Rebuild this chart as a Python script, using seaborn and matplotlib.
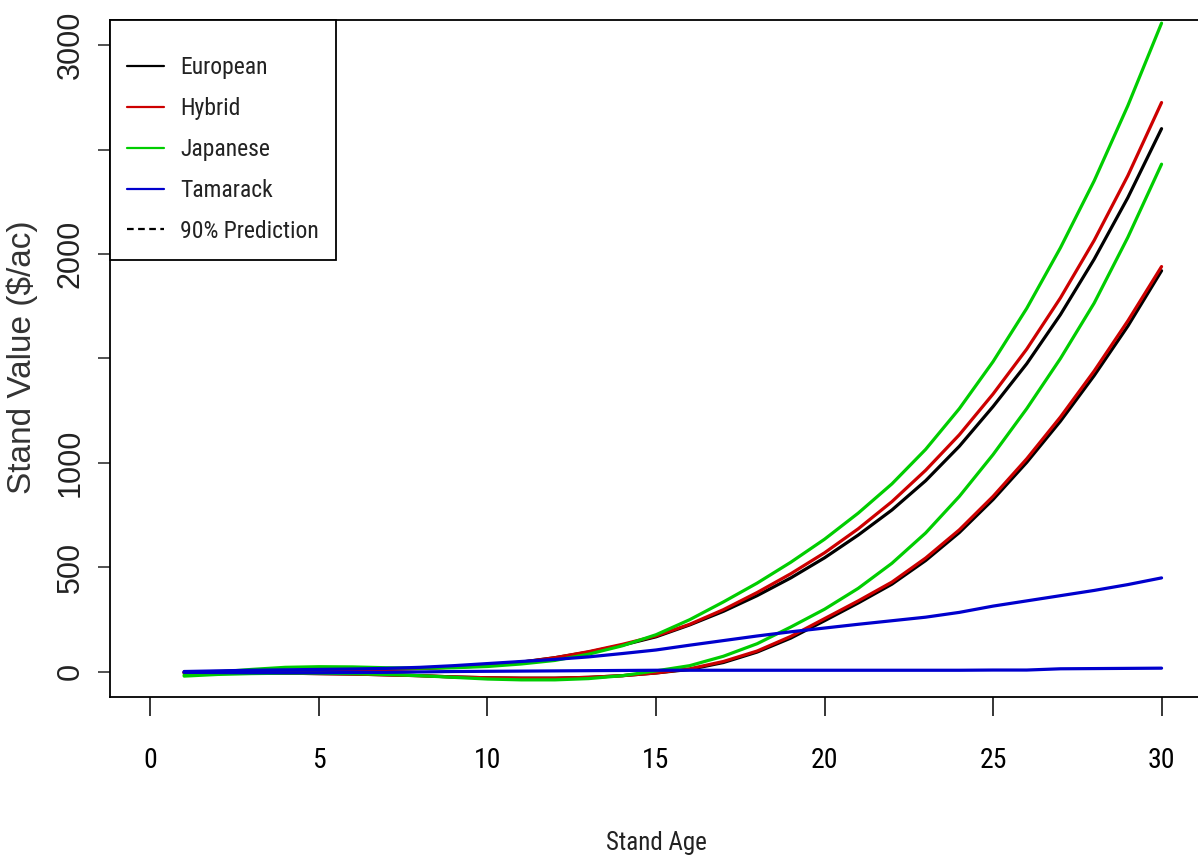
import os
import matplotlib
matplotlib.use("Agg")
import matplotlib.pyplot as plt
from matplotlib import font_manager
from matplotlib.font_manager import FontProperties
from matplotlib.lines import Line2D
import seaborn as sns
import pandas as pd

# stand age (years)
ages = list(range(1, 31))

# 90% prediction bounds of stand value ($/ac)
european_hi = [0, 2, 4, 6, 8, 10, 13, 17, 23, 32, 47, 68, 95, 128, 168,
               225, 290, 365, 450, 546, 655, 775, 915, 1080, 1270, 1475, 1710, 1975, 2270, 2600]
european_lo = [-5, -5, -5, -6, -8, -10, -14, -18, -24, -28, -30, -30, -26, -18, -5,
               12, 45, 95, 162, 245, 330, 420, 533, 667, 825, 1003, 1200, 1418, 1655, 1920]
hybrid_hi = [-2, 1, 4, 6, 8, 10, 12, 16, 22, 30, 46, 68, 97, 132, 172,
             228, 298, 380, 470, 570, 685, 815, 965, 1135, 1330, 1545, 1790, 2065, 2375, 2725]
hybrid_lo = [-4, -4, -5, -6, -8, -10, -14, -18, -24, -28, -30, -30, -26, -18, -5,
             15, 50, 100, 170, 255, 340, 430, 545, 680, 840, 1020, 1220, 1440, 1680, 1940]
japanese_hi = [-15, 0, 12, 22, 25, 24, 20, 18, 20, 26, 38, 55, 85, 125, 178,
               250, 335, 425, 525, 635, 760, 900, 1065, 1260, 1485, 1740, 2030, 2350, 2710, 3105]
japanese_lo = [-20, -12, -8, -6, -6, -8, -12, -18, -26, -34, -38, -38, -32, -18, 5,
               30, 75, 135, 215, 300, 400, 520, 665, 840, 1040, 1260, 1500, 1765, 2080, 2430]
tamarack_hi = [2, 5, 8, 10, 12, 14, 17, 22, 30, 40, 50, 60, 72, 88, 105,
               128, 150, 172, 192, 210, 228, 245, 262, 285, 315, 340, 365, 390, 418, 450]
tamarack_lo = [-2, -3, -4, -4, -4, -3, -2, 0, 2, 3, 4, 5, 6, 7, 8,
               8, 8, 8, 8, 8, 8, 8, 8, 8, 9, 9, 15, 16, 17, 18]

species = ["European", "Hybrid", "Japanese", "Tamarack"]
colors = ["#000000", "#CD0000", "#00CD00", "#0000CD"]
bounds = {
    "European": (european_hi, european_lo),
    "Hybrid": (hybrid_hi, hybrid_lo),
    "Japanese": (japanese_hi, japanese_lo),
    "Tamarack": (tamarack_hi, tamarack_lo),
}

rows = []
for sp in species:
    hi, lo = bounds[sp]
    for a, v in zip(ages, hi):
        rows.append((a, v, sp, "upper"))
    for a, v in zip(ages, lo):
        rows.append((a, v, sp, "lower"))
df = pd.DataFrame(rows, columns=["age", "value", "species", "bound"])

sns.set_theme(style="white")
plt.rcParams["font.family"] = ["Liberation Sans", "DejaVu Sans"]

# narrow face for the horizontal text (the original looks squeezed)
files = {os.path.basename(f.fname).lower(): f.fname for f in font_manager.fontManager.ttflist}
narrow_file = None
for want in ["notosans-extracondensed.ttf", "liberationsansnarrow-regular.ttf",
             "notosans-condensed.ttf", "robotocondensed-regular.ttf",
             "dejavusanscondensed.ttf", "notosans-semicondensed.ttf"]:
    if want in files:
        narrow_file = files[want]
        break
scale = 1.0 if narrow_file else 0.85


def narrow(size):
    if narrow_file:
        return FontProperties(fname=narrow_file, size=size)
    return FontProperties(family="Liberation Sans", size=size * scale)


fig = plt.figure(figsize=(11.98, 8.63), dpi=100)
ax = fig.add_axes([110 / 1198, 166 / 863, 1092 / 1198, 677 / 863])

sns.lineplot(data=df, x="age", y="value", hue="species", units="bound",
             estimator=None, palette=dict(zip(species, colors)),
             hue_order=species, linewidth=2.3, legend=False, ax=ax)

ax.set_xlim(-1.2, 31.2)
ax.set_ylim(-120, 3120)
ax.set_xticks([0, 5, 10, 15, 20, 25, 30])
ax.set_yticks([0, 500, 1000, 1500, 2000, 2500, 3000])
ax.set_yticklabels(["0", "500", "1000", "", "2000", "", "3000"])

for s in ax.spines.values():
    s.set_color("black")
    s.set_linewidth(1.3)

ax.tick_params(axis="x", direction="out", length=14, width=1.1, pad=22,
               colors="black", bottom=True)
ax.tick_params(axis="y", direction="out", length=8.6, width=1.1, pad=9,
               labelsize=22, labelrotation=90, colors="#222222", left=True)
for lbl in ax.get_xticklabels():
    lbl.set_fontproperties(narrow(20))
for lbl in ax.get_yticklabels():
    lbl.set_va("center")

ax.set_xlabel("Stand Age", fontproperties=narrow(18), color="#222222")
ax.xaxis.set_label_coords(0.5, -0.198)
ax.set_ylabel("Stand Value ($/ac)", fontsize=24, color="#333333")
ax.yaxis.set_label_coords(-0.066, 0.502)

handles = [Line2D([], [], color=c, lw=1.6) for c in colors]
handles.append(Line2D([], [], color="black", lw=1.6, linestyle=(0, (3, 2))))
leg = ax.legend(handles, species + ["90% Prediction"], loc="upper left",
                borderaxespad=0, frameon=True, fancybox=False, framealpha=1,
                edgecolor="black", prop=narrow(17),
                handlelength=1.55, handletextpad=0.7, borderpad=0.72,
                labelspacing=0.76, title=" ", title_fontsize=1)
leg.get_frame().set_linewidth(1.3)
for t in leg.get_texts():
    t.set_color("#222222")

fig.savefig("out.png", dpi=100)
